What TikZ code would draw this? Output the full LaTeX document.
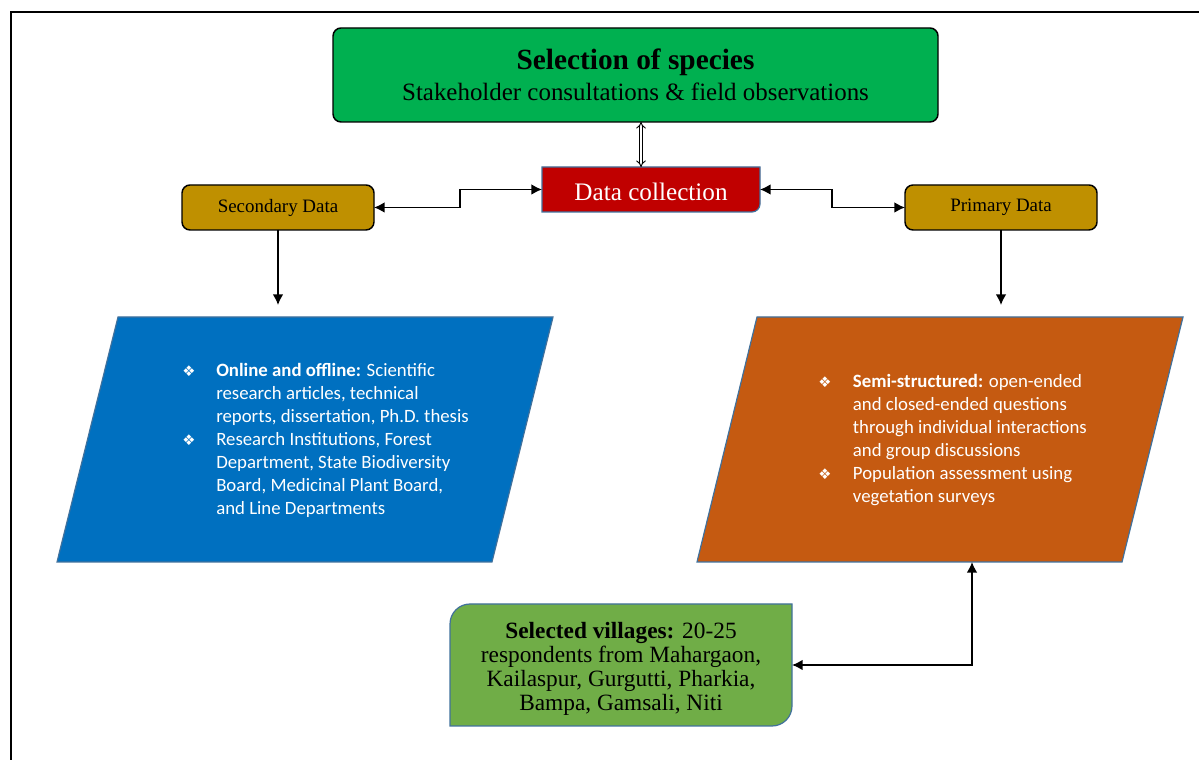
\documentclass[tikz,border=0pt]{standalone}
\usepackage{fontspec}
\setmainfont{Liberation Serif}
\newfontfamily\bodysans{Carlito}
\newfontfamily\dingfont{DejaVu Sans}
\usetikzlibrary{arrows.meta,backgrounds}
\definecolor{sgreen}{HTML}{00B050}
\definecolor{dcred}{HTML}{C00000}
\definecolor{gold}{HTML}{BF9000}
\definecolor{secblue}{HTML}{0070C0}
\definecolor{priorange}{HTML}{C55A11}
\definecolor{vgreen}{HTML}{70AD47}
\definecolor{edge}{HTML}{41719C}
\newcommand{\bul}{{\dingfont\fontsize{11}{11}\selectfont ❖}}

\begin{document}
\begin{tikzpicture}[x=0.75pt,y=0.75pt,>={Latex[length=8pt,width=8pt]},
  box/.style={draw,rounded corners=6pt,line width=1.1pt,inner sep=0pt,outer sep=0pt},
  para/.style={draw=edge,line width=0.9pt},
  bullets/.style={text=white,anchor=base west,inner sep=0pt,font=\bodysans\fontsize{14.1}{17.25}\selectfont},
  link/.style={<->,line width=1.1pt}]
\useasboundingbox (0,0) rectangle (1199,760);
\draw[line width=1.6pt] (11,0) -- (11,748) -- (1199,748);
% top row
\node[box,fill=sgreen,minimum width=453.75pt,minimum height=70.5pt,align=center] (top) at (635.5,685)
 {{\fontsize{22}{26}\selectfont\bfseries Selection of species}\\[4.5pt]
  {\fontsize{18.7}{23}\selectfont Stakeholder consultations \& field observations}};
\node[inner sep=0pt,outer sep=0pt,minimum width=163.5pt,minimum height=33.75pt,text=white,
 font=\fontsize{18.9}{20}\selectfont] (dc) at (651,570.5) {\raisebox{-2pt}[\height][\depth]{Data collection}};
\node[box,fill=gold,minimum width=144pt,minimum height=33.75pt,font=\fontsize{14.2}{17}\selectfont] (sec) at (278,552.5) {Secondary Data};
\node[box,fill=gold,minimum width=144pt,minimum height=33.75pt,font=\fontsize{14.2}{17}\selectfont] (pri) at (1001,552.5) {Primary Data};
% data boxes
\filldraw[para,fill=secblue] (57,198) -- (118,443) -- (553,443) -- (492,198) -- cycle;
\filldraw[para,fill=priorange] (697,198) -- (757,443) -- (1183,443) -- (1122,198) -- cycle;
\coordinate (bluin) at (278,455);
\coordinate (oriin) at (1001,455);
\coordinate (oribot) at (972,198);
\node[bullets] (blutxt) at (182,383) {\begin{tabular}[t]{@{}p{25.5pt}@{}l@{}}
 \bul & \textbf{Online and offline:} Scientific\\
  & research articles, technical\\
  & reports, dissertation, Ph.D. thesis\\
 \bul & Research Institutions, Forest\\
  & Department, State Biodiversity\\
  & Board, Medicinal Plant Board,\\
  & and Line Departments
 \end{tabular}};
\node[bullets] (oritxt) at (818,372) {\begin{tabular}[t]{@{}p{26pt}@{}l@{}}
 \bul & \textbf{Semi-structured:} open-ended\\
  & and closed-ended questions\\
  & through individual interactions\\
  & and group discussions\\
 \bul & Population assessment using\\
  & vegetation surveys
 \end{tabular}};
\node[inner sep=0pt,outer sep=0pt,minimum width=256.5pt,minimum height=91.5pt,
 font=\fontsize{17.5}{17.8}\selectfont] (vil) at (621,95)
 {\raisebox{-3.5pt}[\height][\depth]{\begin{tabular}{@{}c@{}}
  \textbf{Selected villages:} 20-25\\respondents from Mahargaon,\\
  Kailaspur, Gurgutti, Pharkia,\\Bampa, Gamsali, Niti\end{tabular}}};
\begin{scope}[on background layer]
\filldraw[fill=dcred,draw=edge,line width=0.9pt] (dc.north west) -- (dc.north east)
 -- ([yshift=6pt]dc.south east) arc[start angle=0,end angle=-90,radius=6pt] -- (dc.south west) -- cycle;
\filldraw[fill=vgreen,draw=edge,line width=0.9pt] (vil.north east)
 -- ([yshift=15pt]vil.south east) arc[start angle=0,end angle=-90,radius=15pt]
 -- (vil.south west) -- ([yshift=-15pt]vil.north west) arc[start angle=180,end angle=90,radius=15pt] -- cycle;
\end{scope}
% connectors
\draw[double,double distance=1.8pt,line width=0.7pt,{Implies}-{Implies}] ([xshift=-7.5pt]dc.north) -- ([xshift=-7.5pt]dc.north |- top.south);
\draw[link] (dc.west) -- ++(-82,0) |- (sec.east);
\draw[link] (dc.east) -- ++(72,0) |- (pri.west);
\draw[->,line width=1.1pt] (sec.south) -- (bluin);
\draw[->,line width=1.1pt] (pri.south) -- (oriin);
\draw[link] (vil.east) -| (oribot);
\end{tikzpicture}
\end{document}
